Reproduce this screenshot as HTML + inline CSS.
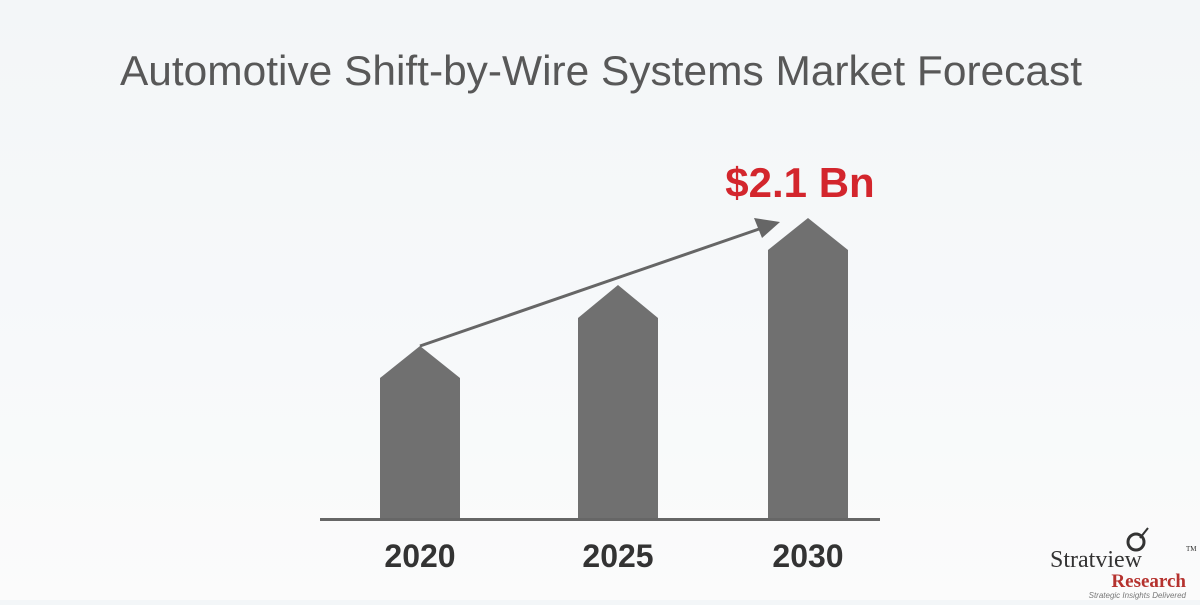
<!DOCTYPE html>
<html><head><meta charset="utf-8"><style>
html,body{margin:0;padding:0}
body{width:1200px;height:600px;overflow:hidden;background:linear-gradient(#f3f6f8,#f7f9fa 60%,#fbfbfb);font-family:"Liberation Sans",sans-serif}
</style></head><body>
<svg width="1200" height="600" xmlns="http://www.w3.org/2000/svg">
<text x="120" y="85" textLength="962" lengthAdjust="spacingAndGlyphs" font-family="Liberation Sans, sans-serif" font-size="42" fill="#585858">Automotive Shift-by-Wire Systems Market Forecast</text>
<text x="800" y="197" text-anchor="middle" font-family="Liberation Sans, sans-serif" font-size="42" font-weight="bold" fill="#d3262d">$2.1 Bn</text>
<g fill="#707070">
<polygon points="380,520 380,378 420,346 460,378 460,520"/>
<polygon points="578,520 578,318 618,285 658,318 658,520"/>
<polygon points="768,520 768,250 808,218 848,250 848,520"/>
</g>
<line x1="420" y1="346" x2="762" y2="228" stroke="#666" stroke-width="3"/>
<polygon points="780,222 754,218 762,238" fill="#666"/>
<rect x="320" y="518" width="560" height="3" fill="#666"/>
<g font-family="Liberation Sans, sans-serif" font-size="32" font-weight="bold" fill="#333" text-anchor="middle">
<text x="420" y="567">2020</text><text x="618" y="567">2025</text><text x="808" y="567">2030</text>
</g>
<g font-family="Liberation Serif, serif">
<circle cx="1136" cy="542" r="8" fill="none" stroke="#333" stroke-width="3"/>
<line x1="1140" y1="538" x2="1148" y2="528" stroke="#333" stroke-width="2"/>
<text x="1050" y="567" font-size="24" fill="#333">Stratview</text>
<text x="1186" y="551" font-size="7" fill="#333">TM</text>
<text x="1186" y="587" text-anchor="end" font-size="19" font-weight="bold" fill="#b5322e">Research</text>
<text x="1186" y="598" text-anchor="end" font-size="8" font-style="italic" fill="#777" font-family="Liberation Sans, sans-serif">Strategic Insights Delivered</text>
</g>
</svg>
</body></html>
